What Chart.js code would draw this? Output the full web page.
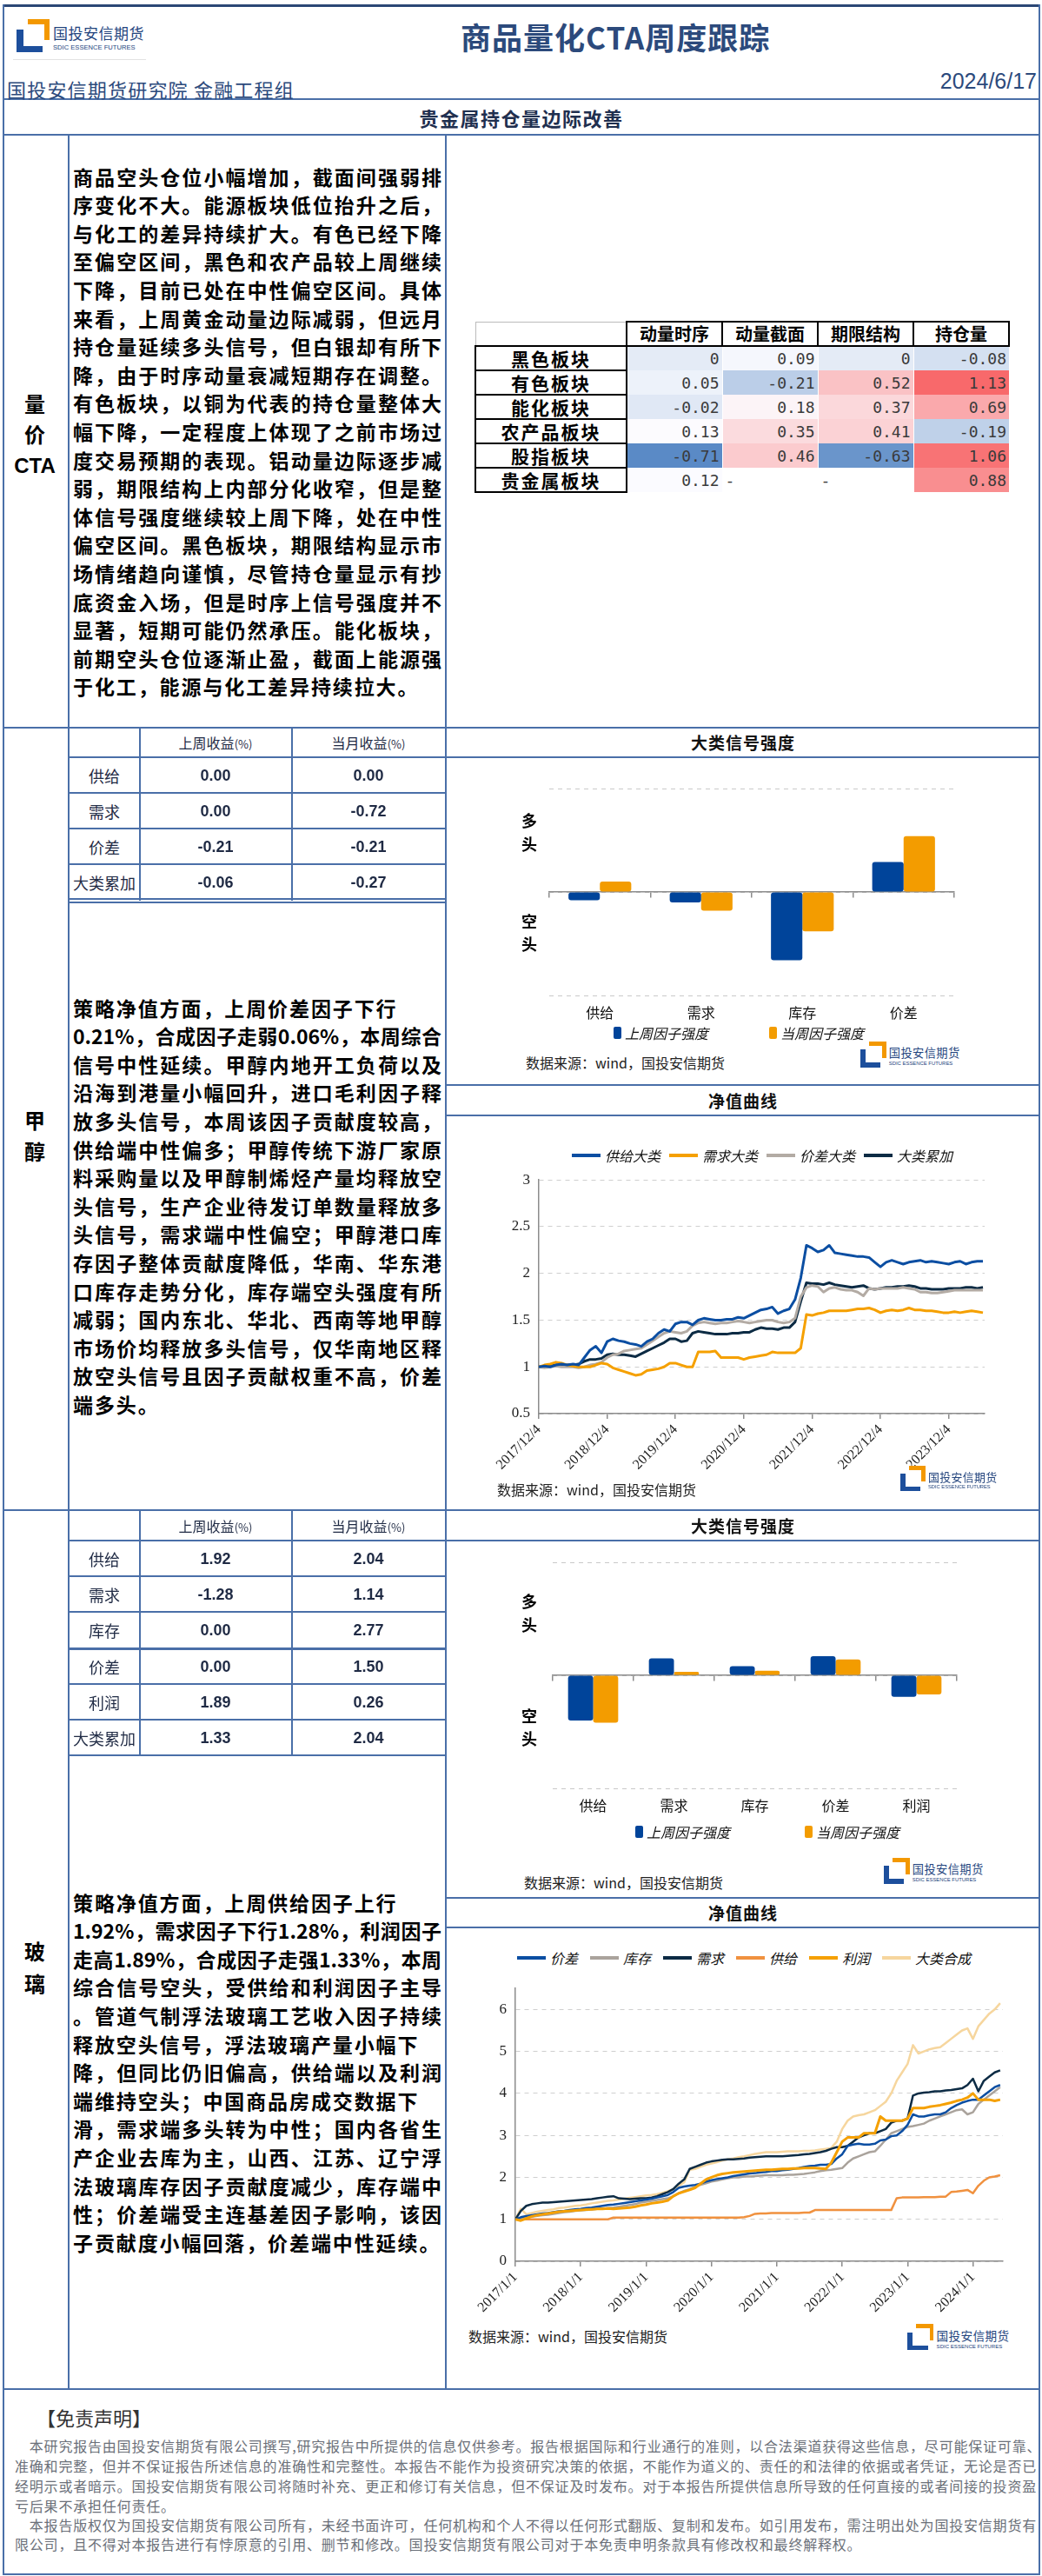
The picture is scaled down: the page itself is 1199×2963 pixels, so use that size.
<!DOCTYPE html>
<html lang="zh-CN">
<head>
<meta charset="utf-8">
<title>商品量化CTA周度跟踪</title>
<script src="https://cdn.jsdelivr.net/npm/chart.js@4.4.1/dist/chart.umd.min.js"></script>
<style>
html,body{margin:0;padding:0;background:#fff;}
#page{position:relative;width:1199px;height:2963px;overflow:hidden;font-family:'Noto Sans CJK SC','Noto Sans',sans-serif;color:#000;}
#page div{box-sizing:border-box;}
.para{position:absolute;left:84px;width:424px;font-weight:700;font-size:23px;line-height:32.6px;}
.para div{white-space:nowrap;letter-spacing:1.9px;height:32.6px;}
.para div.j{letter-spacing:0;text-align:justify;text-align-last:justify;}
.side{position:absolute;left:0;width:80px;text-align:center;font-weight:700;font-size:24px;line-height:35px;}
#heat{position:absolute;left:546px;top:369px;border-collapse:collapse;table-layout:fixed;}
#heat td{height:28px;padding:0 3px;box-sizing:border-box;white-space:nowrap;}
#heat td.rl{width:174px;border:2px solid #000;font-weight:700;font-size:21px;letter-spacing:2px;text-align:center;line-height:24px;}
#heat td.hd{width:110px;border:2px solid #000;font-weight:700;font-size:20px;text-align:center;line-height:24px;}
#heat td.v{font-family:'DejaVu Sans Mono',monospace;font-size:18px;color:#3a3a3a;text-align:right;border-left:1px solid #fff;}
.disc{position:absolute;left:17px;font-size:16px;letter-spacing:0.8px;color:#6b7079;white-space:nowrap;line-height:22.6px;}
</style>
</head>
<body>
<div id="page">

<div class="para" style="top:186.7px">
<div class="j">商品空头仓位小幅增加，截面间强弱排</div>
<div class="j">序变化不大。能源板块低位抬升之后，</div>
<div class="j">与化工的差异持续扩大。有色已经下降</div>
<div class="j">至偏空区间，黑色和农产品较上周继续</div>
<div class="j">下降，目前已处在中性偏空区间。具体</div>
<div class="j">来看，上周黄金动量边际减弱，但远月</div>
<div class="j">持仓量延续多头信号，但白银却有所下</div>
<div class="j">降，由于时序动量衰减短期存在调整。</div>
<div class="j">有色板块，以铜为代表的持仓量整体大</div>
<div class="j">幅下降，一定程度上体现了之前市场过</div>
<div class="j">度交易预期的表现。铝动量边际逐步减</div>
<div class="j">弱，期限结构上内部分化收窄，但是整</div>
<div class="j">体信号强度继续较上周下降，处在中性</div>
<div class="j">偏空区间。黑色板块，期限结构显示市</div>
<div class="j">场情绪趋向谨慎，尽管持仓量显示有抄</div>
<div class="j">底资金入场，但是时序上信号强度并不</div>
<div class="j">显著，短期可能仍然承压。能化板块，</div>
<div class="j">前期空头仓位逐渐止盈，截面上能源强</div>
<div>于化工，能源与化工差异持续拉大。</div>
</div>

<div class="para" style="top:1142.7px">
<div>策略净值方面，上周价差因子下行</div>
<div class="j">0.21%，合成因子走弱0.06%，本周综合</div>
<div class="j">信号中性延续。甲醇内地开工负荷以及</div>
<div class="j">沿海到港量小幅回升，进口毛利因子释</div>
<div class="j">放多头信号，本周该因子贡献度较高，</div>
<div class="j">供给端中性偏多；甲醇传统下游厂家原</div>
<div class="j">料采购量以及甲醇制烯烃产量均释放空</div>
<div class="j">头信号，生产企业待发订单数量释放多</div>
<div class="j">头信号，需求端中性偏空；甲醇港口库</div>
<div class="j">存因子整体贡献度降低，华南、华东港</div>
<div class="j">口库存走势分化，库存端空头强度有所</div>
<div class="j">减弱；国内东北、华北、西南等地甲醇</div>
<div class="j">市场价均释放多头信号，仅华南地区释</div>
<div class="j">放空头信号且因子贡献权重不高，价差</div>
<div>端多头。</div>
</div>

<div class="para" style="top:2171.7px">
<div>策略净值方面，上周供给因子上行</div>
<div class="j">1.92%，需求因子下行1.28%，利润因子</div>
<div class="j">走高1.89%，合成因子走强1.33%，本周</div>
<div class="j">综合信号空头，受供给和利润因子主导</div>
<div class="j">。管道气制浮法玻璃工艺收入因子持续</div>
<div>释放空头信号，浮法玻璃产量小幅下</div>
<div class="j">降，但同比仍旧偏高，供给端以及利润</div>
<div>端维持空头；中国商品房成交数据下</div>
<div class="j">滑，需求端多头转为中性；国内各省生</div>
<div class="j">产企业去库为主，山西、江苏、辽宁浮</div>
<div class="j">法玻璃库存因子贡献度减少，库存端中</div>
<div class="j">性；价差端受主连基差因子影响，该因</div>
<div>子贡献度小幅回落，价差端中性延续。</div>
</div>

<div class="side" style="top:446px">量<br>价<br><span style="font-family:'Liberation Sans';">CTA</span></div>
<div class="side" style="top:1270px;line-height:36px">甲<br>醇</div>
<div class="side" style="top:2225px;line-height:37px">玻<br>璃</div>

<table id="heat"></table>

<canvas id="meBar" width="600" height="305" style="position:absolute;left:560px;top:880px"></canvas>
<canvas id="meLine" width="615" height="366" style="position:absolute;left:545px;top:1337px"></canvas>
<canvas id="glBar" width="600" height="329" style="position:absolute;left:560px;top:1770px"></canvas>
<canvas id="glLine" width="660" height="404" style="position:absolute;left:520px;top:2267px"></canvas>

<div style="position:absolute;left:42px;top:2764px;font-size:22px;color:#333;">【免责声明】</div>
<div class="disc" style="top:2802px">　本研究报告由国投安信期货有限公司撰写,研究报告中所提供的信息仅供参考。报告根据国际和行业通行的准则，以合法渠道获得这些信息，尽可能保证可靠、</div>
<div class="disc" style="top:2825px">准确和完整，但并不保证报告所述信息的准确性和完整性。本报告不能作为投资研究决策的依据，不能作为道义的、责任的和法律的依据或者凭证，无论是否已</div>
<div class="disc" style="top:2848px">经明示或者暗示。国投安信期货有限公司将随时补充、更正和修订有关信息，但不保证及时发布。对于本报告所提供信息所导致的任何直接的或者间接的投资盈</div>
<div class="disc" style="top:2871px">亏后果不承担任何责任。</div>
<div class="disc" style="top:2893px">　本报告版权仅为国投安信期货有限公司所有，未经书面许可，任何机构和个人不得以任何形式翻版、复制和发布。如引用发布，需注明出处为国投安信期货有</div>
<div class="disc" style="top:2915px">限公司，且不得对本报告进行有悖原意的引用、删节和修改。国投安信期货有限公司对于本免责申明条款具有修改权和最终解释权。</div>
</div>

<script>
// ---------- 量价CTA 板块信号表 ----------
const sectorNames = ['黑色板块', '有色板块', '能化板块', '农产品板块', '股指板块', '贵金属板块'];
const factorNames = ['动量时序', '动量截面', '期限结构', '持仓量'];
const momTs = [0, 0.05, -0.02, 0.13, -0.71, 0.12];
const momCs = [0.09, -0.21, 0.18, 0.35, 0.46, null];
const termSt = [0, 0.52, 0.37, 0.41, -0.63, null];
const openInt = [-0.08, 1.13, 0.69, -0.19, 1.06, 0.88];

// ---------- 甲醇 ----------
const meFactors = ['供给', '需求', '价差', '大类累加'];
const meWeekRet = [0.00, 0.00, -0.21, -0.06];
const meMonthRet = [0.00, -0.72, -0.21, -0.27];
const meBarCats = ['供给', '需求', '库存', '价差'];
const meBarPrev = [-0.08, -0.10, -0.66, 0.29];
const meBarCur = [0.10, -0.18, -0.38, 0.54];
const meTickLabels = ['2017/12/4', '2018/12/4', '2019/12/4', '2020/12/4', '2021/12/4', '2022/12/4', '2023/12/4'];
// monthly net value, starting 2017/12/4
const meSupply = [1.00,1.01,1.00,1.02,1.03,1.02,1.03,1.02,1.10,1.18,
  1.22,1.15,1.27,1.30,1.28,1.27,1.25,1.24,1.22,1.27,
  1.30,1.36,1.40,1.38,1.46,1.48,1.48,1.45,1.50,1.52,
  1.51,1.50,1.50,1.51,1.51,1.53,1.52,1.55,1.58,1.61,
  1.62,1.64,1.57,1.60,1.62,1.72,1.95,2.30,2.27,2.23,
  2.25,2.30,2.22,2.21,2.20,2.19,2.18,2.18,2.17,2.12,
  2.07,2.12,2.14,2.12,2.10,2.12,2.13,2.14,2.12,2.13,
  2.12,2.11,2.10,2.12,2.13,2.10,2.12,2.13,2.13];
const meDemand = [1.00,1.02,1.03,1.05,1.04,1.02,1.01,1.00,1.00,1.00,
  1.02,1.04,1.03,0.99,0.97,0.95,0.93,0.91,0.92,0.96,
  0.97,0.98,1.00,1.04,1.04,1.02,1.00,1.00,1.16,1.16,
  1.16,1.17,1.10,1.10,1.10,1.10,1.08,1.10,1.11,1.12,
  1.13,1.16,1.15,1.15,1.15,1.15,1.20,1.56,1.55,1.57,
  1.58,1.60,1.60,1.60,1.60,1.61,1.62,1.62,1.63,1.61,
  1.58,1.60,1.61,1.60,1.61,1.63,1.61,1.61,1.60,1.60,
  1.59,1.58,1.58,1.59,1.58,1.59,1.60,1.59,1.58];
const meSpread = [1.00,0.99,1.00,1.01,1.00,1.00,1.00,0.99,1.00,1.02,
  1.03,1.05,1.10,1.13,1.14,1.17,1.18,1.19,1.20,1.24,
  1.28,1.32,1.36,1.38,1.37,1.36,1.38,1.44,1.47,1.48,
  1.47,1.46,1.47,1.47,1.48,1.49,1.48,1.47,1.48,1.49,
  1.50,1.50,1.48,1.47,1.48,1.52,1.75,1.85,1.87,1.86,
  1.80,1.84,1.85,1.83,1.82,1.82,1.80,1.76,1.84,1.83,
  1.84,1.84,1.84,1.84,1.85,1.84,1.83,1.80,1.80,1.79,
  1.79,1.80,1.81,1.82,1.82,1.82,1.82,1.82,1.82];
const meTotal = [1.00,1.01,1.01,1.02,1.02,1.02,1.02,1.03,1.06,1.08,
  1.08,1.09,1.13,1.14,1.13,1.13,1.12,1.11,1.14,1.17,
  1.20,1.23,1.26,1.30,1.30,1.27,1.28,1.36,1.38,1.37,
  1.36,1.35,1.35,1.35,1.36,1.36,1.37,1.37,1.40,1.42,
  1.41,1.41,1.40,1.42,1.42,1.48,1.70,1.90,1.89,1.89,
  1.88,1.90,1.88,1.87,1.86,1.85,1.86,1.87,1.84,1.83,
  1.84,1.85,1.85,1.86,1.86,1.87,1.86,1.84,1.84,1.83,
  1.83,1.83,1.84,1.84,1.84,1.85,1.85,1.84,1.85];

// ---------- 玻璃 ----------
const glFactors = ['供给', '需求', '库存', '价差', '利润', '大类累加'];
const glWeekRet = [1.92, -1.28, 0.00, 0.00, 1.89, 1.33];
const glMonthRet = [2.04, 1.14, 2.77, 1.50, 0.26, 2.04];
const glBarCats = ['供给', '需求', '库存', '价差', '利润'];
const glBarPrev = [-0.40, 0.15, 0.08, 0.17, -0.19];
const glBarCur = [-0.42, 0.03, 0.04, 0.14, -0.17];
const glTickLabels = ['2017/1/1', '2018/1/1', '2019/1/1', '2020/1/1', '2021/1/1', '2022/1/1', '2023/1/1', '2024/1/1'];
// monthly net value, starting 2017/1/1
const glSpread = [1.00,1.05,1.08,1.10,1.12,1.14, 1.15,1.17,1.19,1.20,1.22,1.24,
  1.25,1.27,1.28,1.30,1.32,1.34, 1.35,1.37,1.39,1.41,1.43,1.45,
  1.47,1.49,1.52,1.55,1.58,1.65, 1.75,1.78,1.80,1.82,1.85,1.90,
  1.93,1.96,1.98,2.00,2.03,2.05, 2.07,2.09,2.10,2.12,2.13,2.15,
  2.15,2.17,2.18,2.20,2.22,2.25, 2.27,2.28,2.30,2.30,2.32,2.45,
  2.55,2.75,2.78,2.80,2.78,2.78, 2.80,2.88,2.90,2.98,3.00,3.10,
  3.25,3.50,3.45,3.45,3.48,3.50, 3.50,3.55,3.65,3.72,3.78,3.82,
  3.85,3.85,3.95,4.05,4.15,4.20];
const glStock = [1.00,1.02,1.04,1.06,1.08,1.10, 1.11,1.13,1.15,1.17,1.18,1.20,
  1.21,1.22,1.23,1.25,1.26,1.27, 1.28,1.30,1.32,1.34,1.36,1.40,
  1.42,1.44,1.46,1.48,1.50,1.55, 1.62,1.68,1.72,1.78,1.82,1.86,
  1.90,1.92,1.95,1.98,2.00,2.00, 2.02,2.02,2.03,2.04,2.05,2.05,
  2.05,2.05,2.06,2.06,2.07,2.08, 2.10,2.12,2.15,2.17,2.18,2.20,
  2.22,2.35,2.45,2.50,2.55,2.60, 2.62,2.75,2.90,3.05,3.10,3.15,
  3.20,3.22,3.25,3.28,3.35,3.40, 3.45,3.50,3.55,3.60,3.62,3.50,
  3.55,3.75,3.85,3.95,4.05,4.15];
const glDemand = [1.00,1.20,1.32,1.36,1.38,1.40, 1.40,1.41,1.42,1.43,1.44,1.45,
  1.46,1.47,1.48,1.50,1.52,1.54, 1.55,1.50,1.49,1.48,1.49,1.50,
  1.50,1.52,1.55,1.60,1.65,1.72, 1.85,1.95,2.20,2.25,2.30,2.35,
  2.38,2.40,2.42,2.43,2.43,2.44, 2.45,2.47,2.48,2.49,2.50,2.50,
  2.50,2.50,2.51,2.52,2.53,2.55, 2.56,2.58,2.60,2.63,2.68,2.72,
  2.72,2.75,2.85,2.95,3.00,3.05, 3.05,3.10,3.15,3.30,3.35,3.35,
  3.40,3.95,4.00,4.02,4.03,4.05, 4.05,4.07,4.08,4.10,4.12,4.20,
  4.35,4.05,4.30,4.40,4.50,4.55];
const glSupply = [1.00,1.00,1.00,1.00,1.00,1.00,1.00,1.00,1.00,1.00,
  1.00,1.00,1.00,1.00,1.00,1.00,1.00,1.00,1.04,1.04,
  1.04,1.04,1.04,1.04,1.04,1.04,1.04,1.04,1.04,1.04,
  1.04,1.04,1.04,1.04,1.04,1.04,1.04,1.04,1.04,1.04,
  1.04,1.04,1.05,1.08,1.13,1.14,1.14,1.15,1.15,1.15,
  1.15,1.15,1.15,1.16,1.16,1.22,1.22,1.22,1.22,1.22,
  1.22,1.22,1.22,1.22,1.22,1.22,1.22,1.22,1.22,1.22,
  1.50,1.52,1.52,1.52,1.52,1.53,1.53,1.53,1.54,1.54,
  1.65,1.66,1.68,1.70,1.62,1.80,1.92,2.00,2.02,2.05];
const glProfit = [1.00,0.97,1.02,1.07,1.10,1.12, 1.14,1.16,1.18,1.19,1.20,1.21,
  1.22,1.23,1.24,1.25,1.25,1.26, 1.25,1.26,1.27,1.28,1.30,1.33,
  1.35,1.38,1.40,1.42,1.45,1.55, 1.62,1.66,1.70,1.75,1.85,1.95,
  2.00,2.05,2.08,2.10,2.12,2.13, 2.14,2.15,2.16,2.17,2.18,2.18,
  2.19,2.20,2.20,2.21,2.21,2.22, 2.22,2.22,2.21,2.20,2.35,2.60,
  2.85,2.95,2.95,2.95,3.05,3.05, 3.05,3.45,3.35,3.35,3.35,3.35,
  3.40,3.65,3.65,3.65,3.68,3.70, 3.72,3.75,3.78,3.82,3.85,3.90,
  4.00,3.85,3.85,3.85,3.82,3.85];
const glTotal = [1.00,1.25,1.12,1.15,1.18,1.20, 1.22,1.24,1.27,1.28,1.30,1.32,
  1.33,1.35,1.38,1.40,1.42,1.44, 1.45,1.47,1.49,1.51,1.53,1.55,
  1.57,1.58,1.60,1.63,1.67,1.72, 1.80,1.88,2.18,2.20,2.25,2.30,
  2.33,2.36,2.40,2.43,2.45,2.48, 2.50,2.53,2.56,2.58,2.60,2.60,
  2.60,2.61,2.62,2.62,2.62,2.63, 2.63,2.64,2.66,2.68,2.70,2.85,
  3.15,3.35,3.45,3.48,3.50,3.55, 3.60,3.70,3.80,4.00,4.30,4.50,
  4.70,5.15,4.95,5.00,5.05,5.08, 5.10,5.20,5.30,5.40,5.50,5.55,
  5.30,5.60,5.75,5.90,6.00,6.15];

const BLUE = '#0b4ea2', NAVY = '#0c2b44', GREY = '#b3aba4', ORANGE = '#f5a000';
const LINE = '#4a6fa8';
const page = document.getElementById('page');

function box(css, html) {
  const d = document.createElement('div');
  d.style.cssText = 'position:absolute;' + css;
  if (html != null) d.innerHTML = html;
  page.appendChild(d);
  return d;
}
function hl(x1, x2, y, w = 2, c = LINE) { box(`left:${x1}px;top:${y - w / 2}px;width:${x2 - x1}px;height:${w}px;background:${c}`); }
function vl(x, y1, y2, w = 2, c = LINE) { box(`left:${x - w / 2}px;top:${y1}px;width:${w}px;height:${y2 - y1}px;background:${c}`); }
function ctext(cx, cy, txt, css = '') {
  box(`left:${cx - 150}px;top:${cy - 15}px;width:300px;height:30px;line-height:30px;text-align:center;white-space:nowrap;${css}`, txt);
}
function logo(x, y, s, withText = true) {
  const u = v => (v * s) + 'px';
  box(`left:${x + 13 * s}px;top:${y}px;width:${u(25)};height:${u(6)};background:#f39800`);
  box(`left:${x + 32 * s}px;top:${y}px;width:${u(6)};height:${u(24)};background:#f39800`);
  box(`left:${x}px;top:${y + 12 * s}px;width:${u(8)};height:${u(26)};background:#1d4f9c`);
  box(`left:${x}px;top:${y + 31 * s}px;width:${u(30)};height:${u(7)};background:#1d4f9c`);
  if (withText) {
    box(`left:${x + 42 * s}px;top:${y + 6 * s}px;font-size:${u(17)};line-height:${u(20)};color:#24457e;white-space:nowrap;letter-spacing:${u(0.5)}`, '国投安信期货');
    box(`left:${x + 42 * s}px;top:${y + 28 * s}px;font-size:${u(7.6)};line-height:${u(10)};color:#24457e;white-space:nowrap;font-family:'Liberation Sans'`, 'SDIC ESSENCE FUTURES');
  }
}

// ---------- frame ----------
hl(3, 1197, 6, 3, '#2b4775');
vl(4, 5, 2962); vl(1196, 5, 2962); hl(3, 1197, 2961);
hl(3, 1197, 114); hl(3, 1197, 155); hl(3, 1197, 837); hl(3, 1197, 1737); hl(3, 1197, 2748);
vl(79, 155, 2748); vl(513, 155, 2748);
// 甲醇 table
hl(79, 1196, 871);
[912, 953, 994].forEach(y => hl(79, 513, y));
hl(79, 513, 1034, 1.5); hl(79, 513, 1038, 1.5);
vl(161, 837, 1036); vl(336, 837, 1036);
hl(513, 1196, 1248); hl(513, 1196, 1283);
// 玻璃 table
hl(79, 1196, 1772);
[1813, 1854, 1937, 1978, 2019].forEach(y => hl(79, 513, y));
hl(79, 513, 1896, 3);
vl(161, 1737, 2019); vl(336, 1737, 2019);
hl(513, 1196, 2183); hl(513, 1196, 2217);

// ---------- header ----------
logo(19, 22, 1);
hl(15, 168, 68, 1, '#e2e2e2');
ctext(680, 42, '商品量化CTA周度跟踪', 'font-size:35px;font-weight:700;color:#2c4a7c;letter-spacing:1px;');
box('left:8px;top:88px;font-size:22px;line-height:28px;color:#2c4a7c;letter-spacing:1.2px;white-space:nowrap', '国投安信期货研究院 金融工程组');
box('left:993px;top:78px;width:200px;text-align:right;font-family:"Liberation Sans";font-size:25px;line-height:30px;color:#2c4a7c', '2024/6/17');
ctext(600, 135, '贵金属持仓量边际改善', 'font-size:22px;font-weight:700;color:#1f2f4f;letter-spacing:1.5px;');

// ---------- 板块信号热力表 ----------
const heatCols = [momTs, momCs, termSt, openInt];
const heatVals = heatCols.flat().filter(v => v != null).sort((a, b) => a - b);
const hMin = heatVals[0], hMax = heatVals[heatVals.length - 1];
const hMid = (heatVals[(heatVals.length - 1) >> 1] + heatVals[heatVals.length >> 1]) / 2;
function mix(c1, c2, t) {
  return 'rgb(' + c1.map((c, i) => Math.round(c + (c2[i] - c) * t)).join(',') + ')';
}
function heatColor(v) {
  if (v == null) return '#fff';
  const lo = [90, 138, 198], mid = [252, 252, 255], hi = [248, 105, 107];
  return v <= hMid ? mix(lo, mid, (v - hMin) / (hMid - hMin)) : mix(mid, hi, (v - hMid) / (hMax - hMid));
}
const heat = document.getElementById('heat');
let hh = '<tr><td class="hd" style="width:174px;border:1px solid #bbb;border-bottom:2px solid #000"></td>' +
  factorNames.map(f => `<td class="hd">${f}</td>`).join('') + '</tr>';
sectorNames.forEach((s, r) => {
  hh += `<tr><td class="rl">${s}</td>`;
  heatCols.forEach(col => {
    const v = col[r];
    hh += v == null
      ? '<td class="v" style="text-align:left;background:#fff">-</td>'
      : `<td class="v" style="background:${heatColor(v)}">${v}</td>`;
  });
  hh += '</tr>';
});
heat.innerHTML = hh;

// ---------- 收益表 ----------
function retTable(names, wk, mo, rowYs, headY) {
  const hs = '<span style="font-size:13px">(%)</span>';
  ctext(248, headY, '上周收益' + hs, 'font-size:16px;color:#1f2a44');
  ctext(424, headY, '当月收益' + hs, 'font-size:16px;color:#1f2a44');
  names.forEach((n, i) => {
    ctext(120, rowYs[i], n, 'font-size:18px;color:#1f2a44');
    ctext(248, rowYs[i], wk[i].toFixed(2), 'font-family:"Liberation Sans";font-weight:700;font-size:18px;color:#1f2a44');
    ctext(424, rowYs[i], mo[i].toFixed(2), 'font-family:"Liberation Sans";font-weight:700;font-size:18px;color:#1f2a44');
  });
}
retTable(meFactors, meWeekRet, meMonthRet, [891.5, 932.5, 973.5, 1014.5], 854);
retTable(glFactors, glWeekRet, glMonthRet, [1792.5, 1833.5, 1875, 1916.5, 1957.5, 1998.5], 1754.5);

// ---------- panel titles / notes ----------
const titleCss = 'font-size:19px;font-weight:700;color:#111;letter-spacing:1px;';
ctext(855, 854, '大类信号强度', titleCss);
ctext(855, 1266, '净值曲线', titleCss);
ctext(855, 1755, '大类信号强度', titleCss);
ctext(855, 2200, '净值曲线', titleCss);
function src(x, y) { box(`left:${x}px;top:${y - 11}px;line-height:22px;font-size:16px;color:#222;white-space:nowrap`, '数据来源：wind，国投安信期货'); }
src(605, 1222); src(572, 1713); src(603, 2165); src(539, 2687);
logo(990, 1198, 0.78); logo(1036, 1686, 0.76); logo(1017, 2137, 0.78); logo(1044, 2673, 0.8);
function sideTag(x, yTop, yBot) {
  box(`left:${x - 12}px;top:${yTop - 30}px;width:24px;text-align:center;font-size:18px;line-height:27px;font-weight:700`, '多<br>头');
  box(`left:${x - 12}px;top:${yBot - 30}px;width:24px;text-align:center;font-size:18px;line-height:26px;font-weight:700`, '空<br>头');
}
sideTag(609, 960, 1076);
sideTag(609, 1858, 1990);

// ---------- charts ----------
Chart.defaults.animation = false;
Chart.defaults.font.family = "'Noto Sans CJK SC'";
const serif = 'Liberation Serif';

function barChart(id, cats, prev, cur, pad, x2h) {
  return new Chart(document.getElementById(id), {
    type: 'bar',
    data: {
      labels: cats,
      datasets: [
        { label: '上周因子强度', data: prev, backgroundColor: '#00449a', borderRadius: 3, borderSkipped: false },
        { label: '当周因子强度', data: cur, backgroundColor: '#f39c00', borderRadius: 3, borderSkipped: false }
      ]
    },
    options: {
      responsive: false,
      layout: { padding: pad },
      datasets: { bar: { categoryPercentage: 0.62, barPercentage: 1 } },
      plugins: { legend: { display: false }, tooltip: { enabled: false } },
      scales: {
        x: {
          type: 'category', position: { y: 0 }, offset: true,
          ticks: { display: false },
          grid: { offset: true, drawOnChartArea: false, drawTicks: true, tickLength: 6, color: '#8c8c8c', lineWidth: 1.5 },
          border: { display: true, color: '#8c8c8c', width: 1.5 }
        },
        x2: {
          type: 'category', position: 'bottom', offset: true,
          grid: { display: false, drawTicks: false }, border: { display: false },
          ticks: { padding: 10, color: '#111', font: { size: 16 } },
          afterFit(s) { s.height = x2h; }
        },
        y: {
          min: -1, max: 1,
          ticks: { display: false, stepSize: 2 },
          grid: { color: '#c9c9c9', drawTicks: false, lineWidth: 1 },
          border: { display: false, dash: [5, 5] },
          afterFit(s) { s.width = 0; }
        }
      }
    }
  });
}
function barLegend(chart, left, cy, gap) {
  const wrap = box(`left:${left}px;top:${cy - 12}px;height:24px;display:flex;align-items:center;gap:${gap}px;white-space:nowrap`);
  chart.data.datasets.forEach(ds => {
    wrap.insertAdjacentHTML('beforeend',
      `<span style="display:flex;align-items:center;gap:4px"><span style="width:9px;height:14px;border-radius:2px;background:${ds.backgroundColor}"></span>` +
      `<span style="font-style:italic;font-size:16px;color:#111">${ds.label}</span></span>`);
  });
}
const meBar = barChart('meBar', meBarCats, meBarPrev, meBarCur, { left: 72, right: 62, top: 27, bottom: 0 }, 40);
barLegend(meBar, 706, 1188, 70);
const glBar = barChart('glBar', glBarCats, glBarPrev, glBarCur, { left: 76, right: 59, top: 27, bottom: 0 }, 42);
barLegend(glBar, 731, 2107, 86);

function pts(arr) { return arr.map((v, i) => ({ x: i, y: v })); }
function lineChart(id, sets, xMax, tickLabels, yMin, yMax, yStep, pad, yW, xH, width) {
  return new Chart(document.getElementById(id), {
    type: 'line',
    data: {
      datasets: sets.map(s => ({
        label: s.label, data: pts(s.data), borderColor: s.color, borderWidth: s.w || width,
        pointRadius: 0, tension: 0, fill: false, order: s.order || 0, borderJoinStyle: 'round'
      }))
    },
    options: {
      responsive: false,
      layout: { padding: pad },
      plugins: { legend: { display: false }, tooltip: { enabled: false } },
      scales: {
        x: {
          type: 'linear', min: 0, max: xMax,
          ticks: {
            stepSize: 12, includeBounds: false, autoSkip: false, maxRotation: 45, minRotation: 45,
            callback: v => tickLabels[v / 12], color: '#222', font: { family: serif, size: 16 }
          },
          grid: { drawOnChartArea: false, drawTicks: true, tickLength: 6, color: '#8c8c8c', lineWidth: 1.5 },
          border: { color: '#8c8c8c', width: 1.5 },
          afterFit(s) { s.height = xH; }
        },
        y: {
          min: yMin, max: yMax,
          ticks: { stepSize: yStep, includeBounds: false, padding: 10, color: '#222', font: { family: serif, size: 17 }, callback: v => v },
          grid: { color: '#cfcfcf', drawTicks: false, lineWidth: 1 },
          border: { color: '#8c8c8c', width: 1.5, dash: [5, 5] },
          afterFit(s) { s.width = yW; }
        }
      }
    }
  });
}
function lineLegend(chart, left, cy, gap) {
  const wrap = box(`left:${left}px;top:${cy - 12}px;height:24px;display:flex;align-items:center;gap:${gap}px;white-space:nowrap`);
  chart.data.datasets.forEach(ds => {
    wrap.insertAdjacentHTML('beforeend',
      `<span style="display:flex;align-items:center;gap:5px"><span style="width:33px;height:4px;background:${ds.borderColor}"></span>` +
      `<span style="font-style:italic;font-size:16px;color:#111">${ds.label}</span></span>`);
  });
}
const meLine = lineChart('meLine', [
  { label: '供给大类', data: meSupply, color: BLUE },
  { label: '需求大类', data: meDemand, color: ORANGE },
  { label: '价差大类', data: meSpread, color: GREY },
  { label: '大类累加', data: meTotal, color: NAVY }
], 78.3, meTickLabels, 0.5, 3, 0.5, { top: 20, right: 27, left: 0, bottom: 0 }, 75, 77, 3);
lineLegend(meLine, 658, 1329, 10);

const glLine = lineChart('glLine', [
  { label: '价差', data: glSpread, color: BLUE, order: 1 },
  { label: '库存', data: glStock, color: '#aaa39c', order: 3 },
  { label: '需求', data: glDemand, color: NAVY, order: 2 },
  { label: '供给', data: glSupply, color: '#f0913f', order: 4 },
  { label: '利润', data: glProfit, color: ORANGE, order: 0, w: 3 },
  { label: '大类合成', data: glTotal, color: '#f6d69e', order: 5 }
], 89.5, glTickLabels, 0, 6.5, 1, { top: 20, right: 26, left: 0, bottom: 0 }, 73, 70, 2.5);
lineLegend(glLine, 595, 2252, 14);
</script>
</body>
</html>
